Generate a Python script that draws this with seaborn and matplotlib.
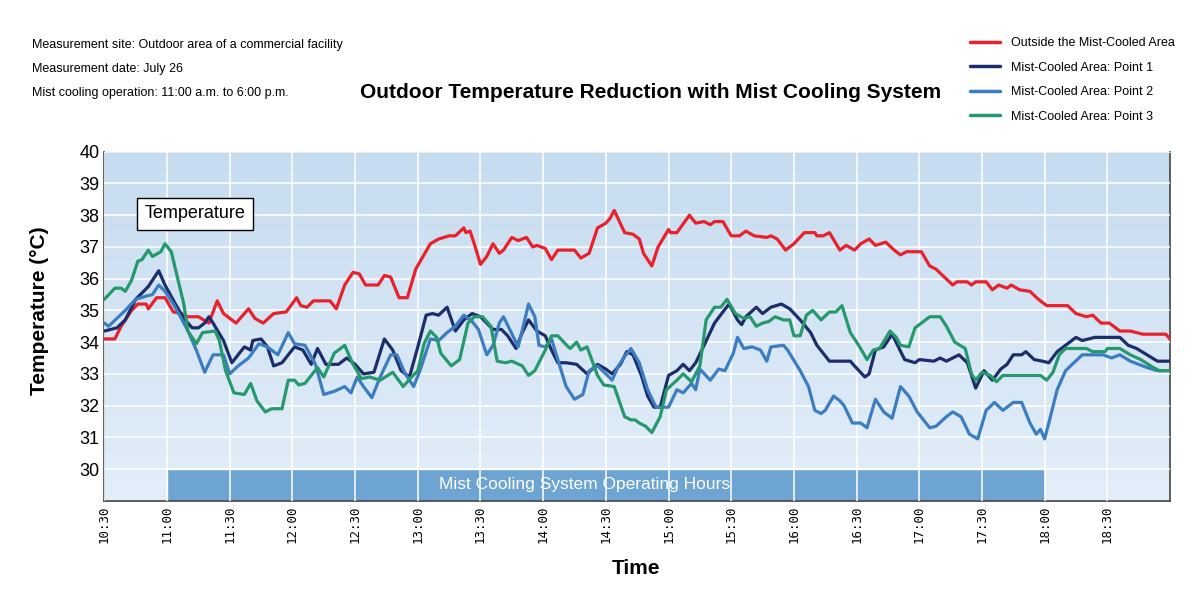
import numpy as np
import pandas as pd
import matplotlib
matplotlib.use('Agg')
import matplotlib.pyplot as plt
import seaborn as sns

# minutes after 10:30 and temperature (deg C)
red_min = [0, 5, 8, 13, 16, 20, 21, 25, 29, 33, 37, 39, 45, 50, 54, 57, 63, 69, 72, 76, 81, 87, 92, 94, 97, 100,
           108, 111, 115, 119, 122, 125, 131, 134, 137, 141, 145, 149, 156, 160, 165, 168, 172, 173, 175, 177,
           180, 183, 186, 189, 191, 195, 198, 202, 205, 207, 211, 214, 217, 225, 228, 232, 236, 240, 242, 244,
           249, 253, 256, 258, 262, 265, 270, 271, 274, 280, 283, 287, 290, 292, 296, 300, 304, 307, 311, 317,
           319, 322, 326, 330, 335, 340, 341, 344, 347, 352, 355, 359, 362, 366, 369, 374, 378, 381, 384, 391,
           395, 398, 406, 408, 413, 415, 417, 422, 425, 428, 432, 434, 438, 443, 447, 451, 461, 465, 470, 473,
           477, 481, 486, 491, 497, 508, 510]
red_temp = [34.1, 34.1, 34.5, 35.0, 35.2, 35.2, 35.05, 35.4, 35.4, 34.95, 34.9, 34.8, 34.8, 34.6, 35.3, 34.9,
            34.6, 35.05, 34.75, 34.6, 34.9, 34.95, 35.4, 35.15, 35.1, 35.3, 35.3, 35.05, 35.8, 36.2, 36.15, 35.8,
            35.8, 36.1, 36.05, 35.4, 35.4, 36.3, 37.1, 37.25, 37.35, 37.35, 37.6, 37.45, 37.5, 37.1, 36.45, 36.7,
            37.1, 36.8, 36.9, 37.3, 37.2, 37.3, 37.0, 37.05, 36.95, 36.6, 36.9, 36.9, 36.65, 36.8, 37.6, 37.75,
            37.9, 38.15, 37.45, 37.4, 37.25, 36.8, 36.4, 37.0, 37.55, 37.45, 37.45, 38.0, 37.75, 37.8, 37.7, 37.8,
            37.8, 37.35, 37.35, 37.5, 37.35, 37.3, 37.35, 37.25, 36.9, 37.1, 37.45, 37.45, 37.35, 37.35, 37.45,
            36.9, 37.05, 36.9, 37.1, 37.25, 37.05, 37.15, 36.9, 36.75, 36.85, 36.85, 36.4, 36.3, 35.8, 35.9, 35.9,
            35.8, 35.9, 35.9, 35.65, 35.8, 35.7, 35.8, 35.65, 35.6, 35.35, 35.15, 35.15, 34.9, 34.8, 34.85, 34.6,
            34.6, 34.35, 34.35, 34.25, 34.25, 34.1]

p1_min = [0, 6, 10, 15, 21, 26, 29, 34, 38, 42, 45, 48, 50, 52, 57, 61, 64, 67, 70, 71, 75, 78, 81, 85, 91, 95,
          99, 102, 106, 112, 116, 120, 124, 129, 134, 138, 142, 146, 150, 154, 157, 160, 164, 168, 172, 176, 180,
          183, 186, 190, 193, 197, 200, 203, 207, 211, 214, 217, 221, 226, 231, 236, 240, 243, 247, 250, 253, 257,
          260, 263, 266, 270, 274, 277, 280, 283, 287, 292, 296, 299, 303, 305, 307, 312, 315, 319, 324, 328, 333,
          338, 341, 347, 352, 357, 359, 364, 366, 369, 373, 377, 380, 383, 388, 390, 397, 400, 403, 409, 413, 417,
          421, 425, 429, 432, 435, 439, 441, 445, 449, 452, 456, 460, 465, 468, 474, 486, 490, 494, 499, 504, 510]
p1_temp = [34.35, 34.45, 34.7, 35.35, 35.75, 36.25, 35.8, 35.2, 34.75, 34.45, 34.45, 34.6, 34.8, 34.6, 34.05,
           33.35, 33.6, 33.85, 33.75, 34.05, 34.1, 33.85, 33.25, 33.35, 33.85, 33.75, 33.3, 33.8, 33.3, 33.3, 33.5,
           33.3, 33.0, 33.05, 34.1, 33.75, 33.1, 32.9, 33.85, 34.85, 34.9, 34.85, 35.1, 34.35, 34.7, 34.9, 34.8,
           34.6, 34.4, 34.4, 34.2, 33.8, 34.3, 34.7, 34.35, 34.2, 33.75, 33.35, 33.35, 33.3, 33.0, 33.3, 33.15, 33.0,
           33.3, 33.7, 33.6, 32.95, 32.3, 31.95, 31.95, 32.95, 33.1, 33.3, 33.1, 33.35, 33.9, 34.6, 34.95, 35.2,
           34.7, 34.55, 34.8, 35.1, 34.9, 35.1, 35.2, 35.05, 34.7, 34.3, 33.9, 33.4, 33.4, 33.4, 33.25, 32.9, 33.0,
           33.75, 33.85, 34.25, 33.85, 33.45, 33.35, 33.45, 33.4, 33.5, 33.4, 33.6, 33.35, 32.55, 33.1, 32.8, 33.15,
           33.3, 33.6, 33.6, 33.7, 33.45, 33.4, 33.35, 33.7, 33.9, 34.15, 34.05, 34.15, 34.15, 33.9, 33.8, 33.6,
           33.4, 33.4]

p2_min = [0, 2, 6, 10, 15, 20, 23, 26, 29, 33, 36, 40, 44, 48, 52, 57, 60, 64, 69, 74, 78, 83, 88, 91, 96, 101,
          105, 110, 115, 118, 121, 124, 128, 132, 137, 140, 144, 148, 151, 156, 160, 164, 168, 172, 176, 179, 181,
          183, 186, 189, 191, 194, 198, 201, 203, 206, 208, 211, 214, 217, 221, 225, 229, 232, 236, 240, 243, 246,
          249, 252, 256, 260, 264, 270, 274, 277, 281, 283, 285, 290, 294, 297, 301, 303, 306, 310, 314, 317, 319,
          325, 327, 333, 337, 340, 343, 345, 349, 352, 354, 358, 362, 365, 369, 373, 377, 381, 385, 389, 395, 398,
          403, 406, 410, 414, 418, 422, 426, 430, 435, 439, 443, 446, 448, 450, 452, 456, 460, 464, 468, 472, 478,
          482, 486, 491, 499, 504, 508]
p2_temp = [34.6, 34.5, 34.75, 35.0, 35.35, 35.45, 35.5, 35.8, 35.6, 35.2, 34.85, 34.35, 33.75, 33.05, 33.6, 33.6,
           33.0, 33.25, 33.5, 33.95, 33.85, 33.6, 34.3, 33.95, 33.9, 33.3, 32.35, 32.45, 32.6, 32.4, 32.9, 32.6,
           32.25, 32.9, 33.6, 33.6, 33.0, 32.6, 33.1, 34.1, 34.05, 34.3, 34.5, 34.85, 34.65, 34.4, 34.0, 33.6, 33.9,
           34.6, 34.8, 34.4, 33.85, 34.65, 35.2, 34.8, 33.9, 33.85, 34.1, 33.45, 32.6, 32.2, 32.35, 33.1, 33.25,
           33.0, 32.8, 33.25, 33.55, 33.8, 33.35, 32.5, 31.95, 31.95, 32.5, 32.4, 32.7, 32.5, 33.15, 32.8, 33.15,
           33.1, 33.65, 34.15, 33.8, 33.85, 33.75, 33.4, 33.85, 33.9, 33.75, 33.1, 32.6, 31.85, 31.75, 31.85, 32.3,
           32.15, 32.0, 31.45, 31.45, 31.3, 32.2, 31.8, 31.6, 32.6, 32.3, 31.8, 31.3, 31.35, 31.65, 31.8, 31.65,
           31.1, 30.95, 31.85, 32.1, 31.85, 32.1, 32.1, 31.45, 31.1, 31.25, 30.95, 31.45, 32.5, 33.1, 33.35, 33.6,
           33.6, 33.6, 33.5, 33.6, 33.4, 33.2, 33.1, 33.1]

p3_min = [0, 5, 8, 10, 13, 16, 18, 21, 23, 27, 29, 32, 36, 38, 40, 44, 47, 53, 55, 58, 62, 67, 70, 73, 77, 80, 85,
          88, 91, 93, 96, 102, 105, 110, 115, 119, 123, 127, 132, 138, 143, 147, 150, 153, 156, 159, 161, 166, 170,
          174, 177, 181, 185, 188, 192, 195, 200, 203, 206, 211, 214, 217, 222, 223, 226, 228, 231, 236, 239, 244,
          249, 252, 254, 256, 259, 262, 266, 269, 274, 277, 281, 285, 288, 292, 295, 298, 302, 306, 309, 312, 315,
          318, 321, 325, 328, 330, 333, 336, 339, 343, 347, 350, 353, 357, 361, 365, 368, 371, 376, 379, 381, 385,
          388, 391, 395, 400, 403, 407, 412, 415, 417, 420, 424, 427, 430, 448, 451, 454, 457, 460, 470, 473, 479,
          480, 486, 491, 496, 502, 505, 510]
p3_temp = [35.35, 35.7, 35.7, 35.6, 35.95, 36.55, 36.6, 36.9, 36.7, 36.85, 37.1, 36.85, 35.75, 35.2, 34.35, 33.95,
           34.3, 34.35, 34.05, 33.1, 32.4, 32.35, 32.7, 32.15, 31.8, 31.9, 31.9, 32.8, 32.8, 32.65, 32.7, 33.2,
           32.9, 33.65, 33.9, 33.3, 32.85, 32.9, 32.8, 33.05, 32.6, 32.9, 33.1, 33.95, 34.35, 34.15, 33.65, 33.25,
           33.45, 34.6, 34.8, 34.8, 34.5, 33.4, 33.35, 33.4, 33.25, 32.95, 33.1, 33.75, 34.2, 34.2, 33.85, 33.8, 34.0,
           33.75, 33.85, 32.95, 32.65, 32.6, 31.65, 31.55, 31.55, 31.45, 31.35, 31.15, 31.65, 32.5, 32.8, 33.0,
           32.75, 33.25, 34.7, 35.1, 35.1, 35.35, 34.9, 34.75, 34.8, 34.5, 34.6, 34.65, 34.8, 34.7, 34.7, 34.2,
           34.2, 34.85, 35.0, 34.7, 34.95, 34.95, 35.15, 34.3, 33.9, 33.45, 33.75, 33.8, 34.35, 34.15, 33.9, 33.85,
           34.45, 34.6, 34.8, 34.8, 34.5, 34.0, 33.8, 33.0, 32.8, 33.05, 32.95, 32.75, 32.95, 32.95, 32.8, 33.05,
           33.6, 33.8, 33.8, 33.7, 33.7, 33.8, 33.8, 33.6, 33.45, 33.2, 33.1, 33.1]

series_names = ['Outside the Mist-Cooled Area', 'Mist-Cooled Area: Point 1',
                'Mist-Cooled Area: Point 2', 'Mist-Cooled Area: Point 3']
series_colors = ['#e8212b', '#1c2d6b', '#3c7dc2', '#26996c']

notes = ['Measurement site: Outdoor area of a commercial facility',
         'Measurement date: July 26',
         'Mist cooling operation: 11:00 a.m. to 6:00 p.m.']
tick_labels = ['10:30', '11:00', '11:30', '12:00', '12:30', '13:00', '13:30', '14:00', '14:30',
               '15:00', '15:30', '16:00', '16:30', '17:00', '17:30', '18:00', '18:30']
mist_start, mist_end = 11.0, 18.0

sns.set_style('white')
plt.rcParams['font.family'] = ['Liberation Sans', 'DejaVu Sans']
plt.rcParams['text.color'] = 'black'
plt.rcParams['xtick.color'] = 'black'
plt.rcParams['ytick.color'] = 'black'

# long table for seaborn
frames = []
for name, mins, temps in zip(series_names, [red_min, p1_min, p2_min, p3_min],
                             [red_temp, p1_temp, p2_temp, p3_temp]):
    frames.append(pd.DataFrame({'hour': 10.5 + np.array(mins) / 60.0, 'temp': temps, 'series': name}))
df = pd.concat(frames, ignore_index=True)

fig = plt.figure(figsize=(12, 6.07), dpi=100)
ax = fig.add_axes([0.087, 0.175, 0.888, 0.575])

# soft blue gradient background, darker at the top
grad = np.linspace(0, 1, 256).reshape(-1, 1)
cmap = matplotlib.colors.LinearSegmentedColormap.from_list('bg', ['#c6dcf0', '#e3eef9'])
ax.imshow(grad, cmap=cmap, aspect='auto', extent=[10.5, 19.0, 29, 40], origin='upper', zorder=0)

ax.set_xlim(10.5, 19.0)
ax.set_ylim(29, 40)
ax.set_xticks(np.arange(10.5, 18.6, 0.5))
ax.set_yticks(range(30, 41))
ax.grid(True, color='white', linewidth=1.1, zorder=1)
ax.set_axisbelow(False)

# operating hours band
ax.barh(29.5, mist_end - mist_start, left=mist_start, height=1.0, color='#6ea4d2', zorder=2)
ax.text(14.33, 29.5, 'Mist Cooling System Operating Hours', color='white', fontsize=12.5,
        ha='center', va='center', zorder=3)

sns.lineplot(data=df, x='hour', y='temp', hue='series', palette=dict(zip(series_names, series_colors)),
             hue_order=series_names, estimator=None, sort=False, linewidth=2.3, ax=ax, legend=False, zorder=4)

ax.set_xticklabels(tick_labels, rotation=90, fontsize=9, family='DejaVu Sans Mono')
ax.tick_params(axis='y', labelsize=13, direction='in', length=5, color='#333333')
ax.tick_params(axis='x', direction='in', length=5, color='#333333')
ax.set_xlabel('')
ax.set_ylabel('')
for s in ['left', 'bottom', 'right']:
    ax.spines[s].set_color('#444444')
    ax.spines[s].set_linewidth(1.2)
ax.spines['top'].set_color('#bbbbbb')

ax.text(0.085, 0.822, 'Temperature', transform=ax.transAxes, fontsize=13, ha='center', va='center',
        zorder=5, bbox=dict(facecolor='white', edgecolor='black', boxstyle='square,pad=0.4', linewidth=1))

fig.text(0.033, 0.488, 'Temperature (°C)', rotation=90, fontsize=15, fontweight='bold',
         ha='center', va='center')
fig.text(0.53, 0.064, 'Time', fontsize=15, fontweight='bold', ha='center', va='center')
fig.text(0.5425, 0.848, 'Outdoor Temperature Reduction with Mist Cooling System', fontsize=15,
         fontweight='bold', ha='center', va='center')
for i, line in enumerate(notes):
    fig.text(0.027, 0.926 - i * 0.0395, line, fontsize=9, ha='left', va='center')

handles = [matplotlib.lines.Line2D([], [], color=c, linewidth=2.5) for c in series_colors]
fig.legend(handles, series_names, loc='upper left', bbox_to_anchor=(0.799, 0.957), frameon=False,
           fontsize=9, handlelength=2.4, labelspacing=1.0, handletextpad=0.9)

fig.savefig('out.png', dpi=100)
